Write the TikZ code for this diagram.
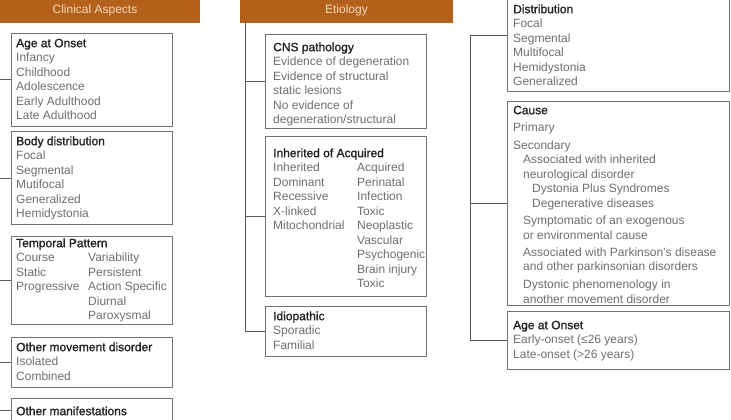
\documentclass[tikz,border=0pt]{standalone}
\usepackage{fontspec}
\setmainfont{Liberation Sans}
\newfontfamily\tfont{Liberation Sans}[FakeBold=1.3]
\definecolor{hdr}{HTML}{B4611C}
\definecolor{hdrtxt}{HTML}{F5D8BC}
\definecolor{boxc}{HTML}{727272}
\definecolor{linec}{HTML}{5A5A5A}
\definecolor{itemc}{HTML}{6E6E6E}
\definecolor{titlec}{HTML}{222222}
\newcommand\ttl[1]{\rule{0pt}{10pt}{\color{titlec}\tfont #1}}
\newcommand\ind[1]{\hspace*{#1pt}}
\begin{document}
\begin{tikzpicture}[x=1pt,y=-1pt,
  hdrs/.style={fill=hdr, draw=none, inner sep=0, text=hdrtxt, font=\fontsize{12}{14}\selectfont},
  boxs/.style={draw=boxc, line width=0.9pt, inner sep=0, anchor=north west},
  txts/.style={anchor=north west, inner sep=0, align=left, text=itemc, font=\fontsize{12}{14.5}\selectfont},
  conn/.style={draw=linec, line width=0.9pt}]
\useasboundingbox (0,0) rectangle (731,420);
\clip (0,0) rectangle (731,420);

% headers
\node[hdrs, minimum width=210, minimum height=25] (ch) at (95,10.5) {Clinical Aspects};
\node[hdrs, minimum width=213, minimum height=25] (eh) at (346.5,10.5) {Etiology};

% ---- Clinical aspects column
\node[boxs, minimum width=161, minimum height=93] (b1) at (11,33) {};
\node[txts] (t1) at (16,37) {\ttl{Age at Onset}\\Infancy\\Childhood\\Adolescence\\Early Adulthood\\Late Adulthood};

\node[boxs, minimum width=161, minimum height=93] (b2) at (11,131) {};
\node[txts] (t2) at (16,135) {\ttl{Body distribution}\\Focal\\Segmental\\Mutifocal\\Generalized\\Hemidystonia};

\node[boxs, minimum width=161, minimum height=88] (b3) at (11,236) {};
\node[txts] (t3) at (16,237) {\ttl{Temporal Pattern}\\Course\\Static\\Progressive};
\node[txts] (t3b) at (88,251.5) {\rule{0pt}{10pt}Variability\\Persistent\\Action Specific\\Diurnal\\Paroxysmal};

\node[boxs, minimum width=161, minimum height=50] (b4) at (11,337) {};
\node[txts] (t4) at (16,341) {\ttl{Other movement disorder}\\Isolated\\Combined};

\node[boxs, minimum width=161, minimum height=23] (b5) at (11,398) {};
\node[txts] (t5) at (16,405) {\ttl{Other manifestations}};

% ---- Etiology column
\node[boxs, minimum width=161, minimum height=94] (e1) at (265,34) {};
\node[txts] (u1) at (273,41) {\ttl{CNS pathology}\\Evidence of degeneration\\Evidence of structural\\static lesions\\No evidence of\\degeneration/structural};

\node[boxs, minimum width=161, minimum height=160] (e2) at (265,136) {};
\node[txts] (u2) at (273,147) {\ttl{Inherited of Acquired}\\Inherited\\Dominant\\Recessive\\X-linked\\Mitochondrial};
\node[txts] (u2b) at (357,161.5) {\rule{0pt}{10pt}Acquired\\Perinatal\\Infection\\Toxic\\Neoplastic\\Vascular\\Psychogenic\\Brain injury\\Toxic};

\node[boxs, minimum width=161, minimum height=50] (e3) at (265,306) {};
\node[txts] (u3) at (273,310) {\ttl{Idiopathic}\\Sporadic\\Familial};

% ---- Right column
\node[boxs, minimum width=222, minimum height=112] (r1) at (507,-21) {};
\node[txts] (v1) at (513,3) {\ttl{Distribution}\\Focal\\Segmental\\Multifocal\\Hemidystonia\\Generalized};

\node[boxs, minimum width=222, minimum height=204] (r2) at (507,101) {};
\node[txts] (v2) at (513,104) {\ttl{Cause}\\[3.2pt]Primary\\[2.8pt]Secondary\\
\ind{10}Associated with inherited\\\ind{10}neurological disorder\\
\ind{19}Dystonia Plus Syndromes\\\ind{19}Degenerative diseases\\[3pt]
\ind{10}Symptomatic of an exogenous\\\ind{10}or environmental cause\\[2.5pt]
\ind{10}Associated with Parkinson’s disease\\\ind{10}and other parkinsonian disorders\\[3.5pt]
\ind{10}Dystonic phenomenology in\\\ind{10}another movement disorder};

\node[boxs, minimum width=222, minimum height=58] (r3) at (507,311) {};
\node[txts] (v3) at (513,319) {\ttl{Age at Onset}\\Early-onset (≤26 years)\\Late-onset (>26 years)};

% ---- connectors
\coordinate (lv) at (-4,0);
\coordinate (ev) at (245,0);
\coordinate (rv) at (470,0);
\draw[conn] (ch.south -| lv) |- (b5.west);
\foreach \b in {b1,b2,b3,b4} \draw[conn] (\b.west) -- (\b.west -| lv);
\draw[conn] (eh.south -| ev) |- (e3.west);
\foreach \b in {e1,e2} \draw[conn] (\b.west) -- (\b.west -| ev);
\draw[conn] (r1.west) -| (rv |- r3.west) -- (r3.west);
\draw[conn] (r2.west) -- (r2.west -| rv);
\end{tikzpicture}
\end{document}
